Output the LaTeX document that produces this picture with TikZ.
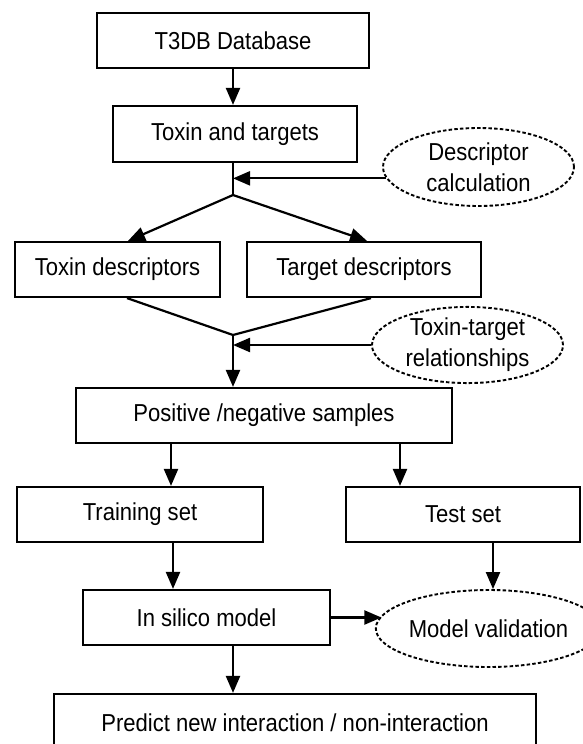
\documentclass[tikz,border=0pt]{standalone}
\usepackage{fontspec}
\setmainfont{Liberation Sans}[FakeStretch=0.9]
\usetikzlibrary{arrows.meta,shapes.geometric}
\tikzset{
  box/.style={draw, line width=2.2pt, rectangle, inner sep=0pt, font=\fontsize{24.5}{29}\selectfont},
  oval/.style={draw, line width=1.9pt, ellipse, inner sep=0pt, dash pattern=on 3.5pt off 2.2pt, align=center, font=\fontsize{24.5}{31}\selectfont},
  conn/.style={line width=2.2pt},
  arr/.style={line width=2.2pt, -{Triangle[length=17pt,width=14pt]}}
}
\begin{document}
\begin{tikzpicture}[x=1pt,y=-1pt]
\useasboundingbox (0,0) rectangle (582,744);
\node[box, minimum width=272pt, minimum height=55pt] (t3db) at (233,40.5) {T3DB Database};
\node[box, minimum width=244pt, minimum height=56pt] (tt) at (235,134) {Toxin and targets};
\node[oval, minimum width=191pt, minimum height=78pt] (desc) at (478.5,167) {Descriptor\\calculation};
\coordinate (j1) at (233,195);
\node[box, minimum width=205pt, minimum height=55pt] (toxd) at (117.5,269.5) {Toxin descriptors};
\node[box, minimum width=234pt, minimum height=55pt] (tgd) at (364,269.5) {Target descriptors};
\node[oval, minimum width=191pt, minimum height=76pt] (rel) at (467.5,345) {Toxin-target\\relationships};
\coordinate (j2) at (233,335);
\node[box, minimum width=376pt, minimum height=55pt] (pn) at (264,415.5) {Positive /negative samples};
\node[box, minimum width=246pt, minimum height=55pt] (tr) at (140,514.5) {Training set};
\node[box, minimum width=234pt, minimum height=55pt] (te) at (463,514.5) {Test set};
\node[box, minimum width=247pt, minimum height=55pt] (is) at (206.5,617.5) {In silico model};
\node[oval, minimum width=183pt, minimum height=77pt] (mv) at (488.5,628.5) {Model validation};
\node[box, minimum width=482pt, minimum height=58pt] (pr) at (295,723) {Predict new interaction / non-interaction};

\draw[arr] (t3db.south) -- (t3db.south |- tt.north);
\draw[conn] (t3db.south |- tt.south) -- (j1);
\draw[arr] (desc.187) -- (desc.187 -| j1);
\draw[arr] (j1) -- ([xshift=10.5pt]toxd.north);
\draw[arr] (j1) -- ([xshift=3pt]tgd.north);
\draw[conn] ([xshift=9.5pt]toxd.south) -- (j2);
\draw[conn] ([xshift=7pt]tgd.south) -- (j2);
\draw[arr] (rel.west) -- (rel.west -| j2);
\draw[arr] (j2) -- (j2 |- pn.north);
\draw[arr] ([xshift=-93pt]pn.south) -- ([xshift=31pt]tr.north);
\draw[arr] ([xshift=136pt]pn.south) -- ([xshift=-63pt]te.north);
\draw[arr] ([xshift=33pt]tr.south) -- ([xshift=-33.5pt]is.north);
\draw[arr] ([xshift=30pt]te.south) -- ([xshift=30pt]te.south |- mv.north);
\draw[arr] (is.east) -- (is.east -| mv.173);
\draw[arr] ([xshift=26.5pt]is.south) -- ([xshift=26.5pt]is.south |- pr.north);
\end{tikzpicture}
\end{document}
